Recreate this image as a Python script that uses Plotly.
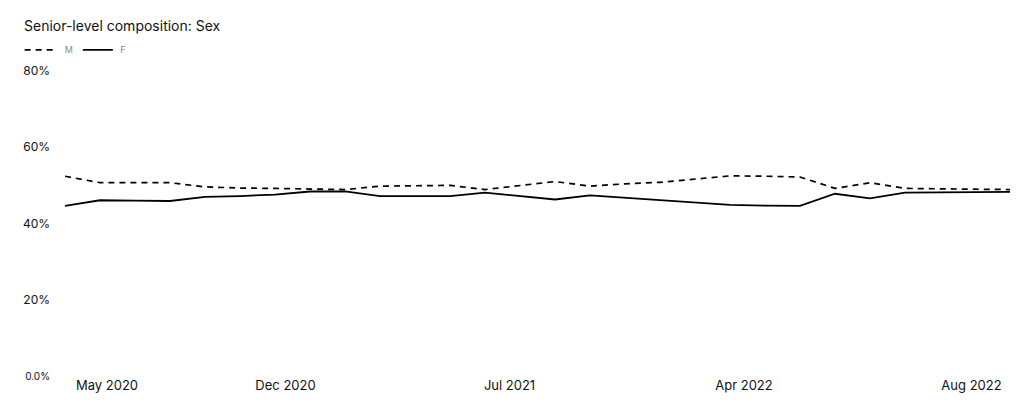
import plotly.graph_objects as go

# Data (percent of senior-level staff)
period_index = list(range(28))
male_pct = [52.4, 50.7, 50.7, 50.7, 49.6, 49.3, 49.2, 49.1, 48.9, 49.8,
            49.9, 50.0, 48.9, 50.0, 51.0, 49.8, 50.4, 50.8, 51.6, 52.5,
            52.4, 52.2, 49.2, 50.7, 49.2, 49.1, 49.0, 48.9]
female_pct = [44.6, 46.1, 46.0, 45.9, 47.0, 47.2, 47.6, 48.4, 48.4, 47.2,
              47.2, 47.2, 48.1, 47.2, 46.3, 47.4, 46.8, 46.2, 45.5, 44.9,
              44.7, 44.6, 47.8, 46.6, 48.1, 48.2, 48.2, 48.3]

x_tick_labels = ["May 2020", "Dec 2020", "Jul 2021", "Apr 2022", "Aug 2022"]
x_tick_positions = [1.2, 6.3, 12.7, 19.4, 25.9]
y_tick_values = [0, 20, 40, 60, 80]
y_tick_labels = ["<span style='font-size:10px'>0.0%</span>", "20%", "40%", "60%", "80%"]

FONT = "Inter, Roboto, sans-serif"

fig = go.Figure()
fig.add_trace(go.Scatter(
    x=period_index, y=male_pct, name="\u00a0\u00a0M", mode="lines",
    line=dict(color="#000000", width=1.7, dash="6px,5px"),
))
fig.add_trace(go.Scatter(
    x=period_index, y=female_pct, name="\u00a0F", mode="lines",
    line=dict(color="#000000", width=1.8),
))

fig.update_layout(
    width=1024, height=412,
    margin=dict(l=57, r=22, t=63, b=44),
    paper_bgcolor="white", plot_bgcolor="white",
    font=dict(family=FONT, color="#111111", size=12),
    title=dict(text="Senior-level composition: Sex", x=16 / 1024, xref="container",
               xanchor="left", y=1 - 18 / 412, yanchor="middle",
               font=dict(family=FONT, size=14, color="#111111")),
    showlegend=True,
    legend=dict(orientation="h", x=-0.048, xanchor="left", y=1.069, yanchor="middle",
                font=dict(family=FONT, size=9, color="#888888"),
                itemwidth=30, traceorder="normal", bgcolor="rgba(0,0,0,0)"),
    xaxis=dict(range=[0, 27], showgrid=False, zeroline=False, showline=False,
               tickmode="array", tickvals=x_tick_positions, ticktext=x_tick_labels,
               ticks="", tickfont=dict(family=FONT, size=13, color="#111111")),
    yaxis=dict(range=[0, 80], showgrid=False, zeroline=False, showline=False,
               tickmode="array", tickvals=y_tick_values, ticktext=y_tick_labels,
               ticks="", ticklabelstandoff=14,
               tickfont=dict(family=FONT, size=12, color="#111111")),
)

fig.write_html("out.html")
